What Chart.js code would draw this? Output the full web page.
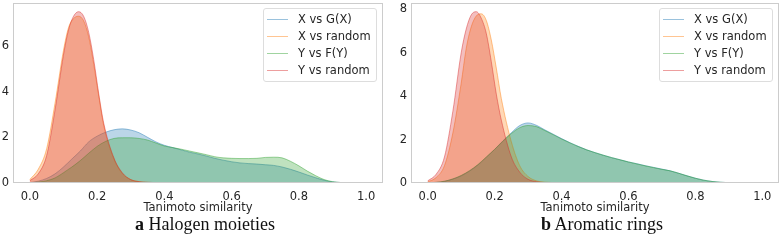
<!DOCTYPE html>
<html>
<head>
<meta charset="utf-8">
<script src="https://cdn.jsdelivr.net/npm/chart.js@4.4.1/dist/chart.umd.min.js"></script>
<style>
  body { margin: 0; background: #fff; width: 784px; height: 241px; overflow: hidden; position: relative; }
  .panel { position: absolute; top: 0; width: 392px; height: 215px; }
  .legend {
    position: absolute; top: 8px; width: 112px; padding: 2px 0 2px 0;
    border: 1px solid #dddddd; border-radius: 3px; background: rgba(255,255,255,0.8);
    font: 11.5px "DejaVu Sans", sans-serif; color: #262626;
  }
  .legend div { height: 17px; line-height: 17px; white-space: nowrap; }
  .legend span.swatch { display: inline-block; width: 21px; height: 1.5px; margin: 0 10px 0 3px; vertical-align: middle; }
  .caption {
    position: absolute; top: 214px; transform: translateX(-50%); white-space: nowrap;
    font: 18px "Liberation Serif", "Times New Roman", serif; color: #111;
  }
</style>
</head>
<body>
<div class="panel" style="left:0"><canvas id="chartA" width="392" height="215"></canvas></div>
<div class="panel" style="left:392px"><canvas id="chartB" width="392" height="215"></canvas></div>
<div class="legend" id="legendA" style="left:263px"></div>
<div class="legend" id="legendB" style="left:659px"></div>
<div class="caption" style="left:205px"><b>a</b> Halogen moieties</div>
<div class="caption" style="left:602px"><b>b</b> Aromatic rings</div>

<script>
// Series names and colours (seaborn defaults)
const seriesNames = ['X vs G(X)', 'X vs random', 'Y vs F(Y)', 'Y vs random'];
const seriesColors = [[31, 119, 180], [255, 127, 14], [44, 160, 44], [214, 39, 40]];

const xTicks = [0.0, 0.2, 0.4, 0.6, 0.8, 1.0];
const yTicksA = [0, 2, 4, 6];
const yTicksB = [0, 2, 4, 6, 8];

// x grid for the broad curves
const gridX = [0.000, 0.025, 0.050, 0.075, 0.100, 0.125, 0.150, 0.175, 0.200, 0.225,
               0.250, 0.275, 0.300, 0.325, 0.350, 0.375, 0.400, 0.425, 0.450, 0.475,
               0.500, 0.525, 0.550, 0.575, 0.600, 0.625, 0.650, 0.675, 0.700, 0.725,
               0.750, 0.775, 0.800, 0.825, 0.850, 0.875, 0.900, 0.925, 0.950, 0.975, 1.000];

// x grid for the narrow "random" curves
const peakX = [0.000, 0.025, 0.050, 0.075, 0.100, 0.115, 0.130, 0.145, 0.160, 0.175,
               0.190, 0.205, 0.220, 0.250, 0.275, 0.300, 0.325, 0.350, 0.400, 0.450, 0.500];

// a  Halogen moieties
const haloXvsGX = [0.02, 0.08, 0.20, 0.40, 0.70, 1.05, 1.40, 1.80, 2.05, 2.22,
                   2.33, 2.37, 2.32, 2.20, 2.00, 1.80, 1.65, 1.55, 1.45, 1.35,
                   1.27, 1.18, 1.08, 1.00, 0.93, 0.88, 0.85, 0.83, 0.80, 0.77,
                   0.70, 0.60, 0.48, 0.35, 0.23, 0.12, 0.05, 0.02, 0.01, 0.00, 0.00];
const haloYvsFY = [0.01, 0.04, 0.10, 0.22, 0.45, 0.70, 0.98, 1.30, 1.60, 1.82,
                   1.95, 1.98, 1.98, 1.95, 1.88, 1.75, 1.62, 1.55, 1.48, 1.40,
                   1.32, 1.24, 1.15, 1.10, 1.08, 1.07, 1.07, 1.08, 1.12, 1.13,
                   1.10, 0.95, 0.75, 0.52, 0.32, 0.15, 0.06, 0.02, 0.01, 0.00, 0.00];
const haloXvsRand = [0.15, 0.60, 1.50, 3.50, 5.80, 6.80, 7.20, 7.30, 7.10, 6.40,
                     5.20, 3.80, 2.50, 1.05, 0.42, 0.15, 0.06, 0.03, 0.01, 0.00, 0.00];
const haloYvsRand = [0.10, 0.40, 1.20, 3.20, 5.60, 6.70, 7.30, 7.50, 7.30, 6.60,
                     5.40, 3.90, 2.60, 1.10, 0.45, 0.15, 0.06, 0.03, 0.01, 0.00, 0.00];

// b  Aromatic rings
const aroXvsGX = [0.00, 0.03, 0.08, 0.18, 0.33, 0.55, 0.83, 1.18, 1.55, 1.95,
                  2.32, 2.65, 2.77, 2.66, 2.45, 2.25, 2.05, 1.86, 1.69, 1.53,
                  1.40, 1.28, 1.17, 1.07, 0.97, 0.89, 0.80, 0.72, 0.64, 0.56,
                  0.45, 0.33, 0.22, 0.13, 0.07, 0.035, 0.015, 0.006, 0.002, 0.00, 0.00];
const aroYvsFY = [0.00, 0.03, 0.08, 0.19, 0.35, 0.57, 0.85, 1.20, 1.55, 1.93,
                  2.28, 2.55, 2.65, 2.60, 2.42, 2.23, 2.03, 1.85, 1.68, 1.53,
                  1.40, 1.28, 1.17, 1.07, 0.97, 0.88, 0.79, 0.71, 0.63, 0.56,
                  0.45, 0.33, 0.22, 0.13, 0.07, 0.035, 0.015, 0.006, 0.002, 0.00, 0.00];
const aroXvsRand = [0.05, 0.25, 0.80, 2.30, 4.60, 6.20, 7.20, 7.70, 7.80, 7.50,
                    6.60, 5.30, 3.90, 1.90, 0.80, 0.30, 0.10, 0.04, 0.01, 0.00, 0.00];
const aroYvsRand = [0.10, 0.40, 1.20, 3.30, 6.00, 7.10, 7.75, 7.90, 7.60, 6.90,
                    5.60, 4.10, 2.90, 1.20, 0.50, 0.17, 0.06, 0.02, 0.01, 0.00, 0.00];

const FONT = '"DejaVu Sans", sans-serif';
const TEXT = '#262626';

function rgba(c, a) {
    return `rgba(${c[0]}, ${c[1]}, ${c[2]}, ${a})`;
}

function toPoints(xs, ys) {
    return xs.map((x, i) => ({ x: x, y: ys[i] }));
}

// no extra room for half-labels, the plot box sits where we put it
function noPadding(s) {
    s.paddingTop = 0;
    s.paddingBottom = 0;
    s.paddingLeft = 0;
    s.paddingRight = 0;
}

// draws the grey box around the plot area
const boxPlugin = {
    id: 'box',
    afterDraw(chart) {
        const a = chart.chartArea;
        const ctx = chart.ctx;
        ctx.save();
        ctx.strokeStyle = '#cccccc';
        ctx.lineWidth = 1;
        ctx.strokeRect(Math.round(a.left) + 0.5, Math.round(a.top) + 0.5,
                       Math.round(a.right - a.left) - 1, Math.round(a.bottom - a.top) - 1);
        ctx.restore();
    }
};

function makeChart(canvasId, curves, yMax, yTicks, yWidth, rightPad) {
    const ctx = document.getElementById(canvasId).getContext('2d');
    // draw order: red on top, blue at the bottom
    const order = [4, 3, 2, 1];
    const datasets = curves.map((pts, i) => ({
        label: seriesNames[i],
        data: pts,
        borderColor: rgba(seriesColors[i], 0.45),
        backgroundColor: rgba(seriesColors[i], 0.3),
        borderWidth: 1,
        fill: 'origin',
        pointRadius: 0,
        cubicInterpolationMode: 'monotone',
        order: order[i]
    }));

    return new Chart(ctx, {
        type: 'line',
        data: { datasets: datasets },
        plugins: [boxPlugin],
        options: {
            responsive: false,
            animation: false,
            layout: { padding: { top: 3, right: rightPad, bottom: 0, left: 0 } },
            plugins: { legend: { display: false }, tooltip: { enabled: false } },
            scales: {
                x: {
                    type: 'linear',
                    min: -0.05,
                    max: 1.05,
                    afterBuildTicks: s => { s.ticks = xTicks.map(v => ({ value: v })); },
                    afterFit: s => { s.height = 32; noPadding(s); },
                    grid: { display: false, drawTicks: false },
                    border: { display: false },
                    ticks: {
                        padding: 7,
                        color: TEXT,
                        font: { family: FONT, size: 11.5 },
                        maxRotation: 0,
                        callback: v => v.toFixed(1)
                    },
                    title: {
                        display: true,
                        text: 'Tanimoto similarity',
                        color: TEXT,
                        font: { family: FONT, size: 11.5 },
                        padding: { top: 0, bottom: 0 }
                    }
                },
                y: {
                    min: 0,
                    max: yMax,
                    afterBuildTicks: s => { s.ticks = yTicks.map(v => ({ value: v })); },
                    afterFit: s => { s.width = yWidth; noPadding(s); },
                    grid: { display: false, drawTicks: false },
                    border: { display: false },
                    ticks: {
                        padding: 4,
                        color: TEXT,
                        font: { family: FONT, size: 11.5 }
                    }
                }
            }
        }
    });
}

function buildLegend(id) {
    const box = document.getElementById(id);
    seriesNames.forEach((name, i) => {
        const row = document.createElement('div');
        const sw = document.createElement('span');
        sw.className = 'swatch';
        sw.style.background = rgba(seriesColors[i], 0.45);
        row.appendChild(sw);
        row.appendChild(document.createTextNode(name));
        box.appendChild(row);
    });
}

makeChart('chartA', [
    toPoints(gridX, haloXvsGX),
    toPoints(peakX, haloXvsRand),
    toPoints(gridX, haloYvsFY),
    toPoints(peakX, haloYvsRand)
], 7.88, yTicksA, 13, 9);

makeChart('chartB', [
    toPoints(gridX, aroXvsGX),
    toPoints(peakX, aroXvsRand),
    toPoints(gridX, aroYvsFY),
    toPoints(peakX, aroYvsRand)
], 8.3, yTicksB, 19, 5);

buildLegend('legendA');
buildLegend('legendB');
</script>
</body>
</html>
